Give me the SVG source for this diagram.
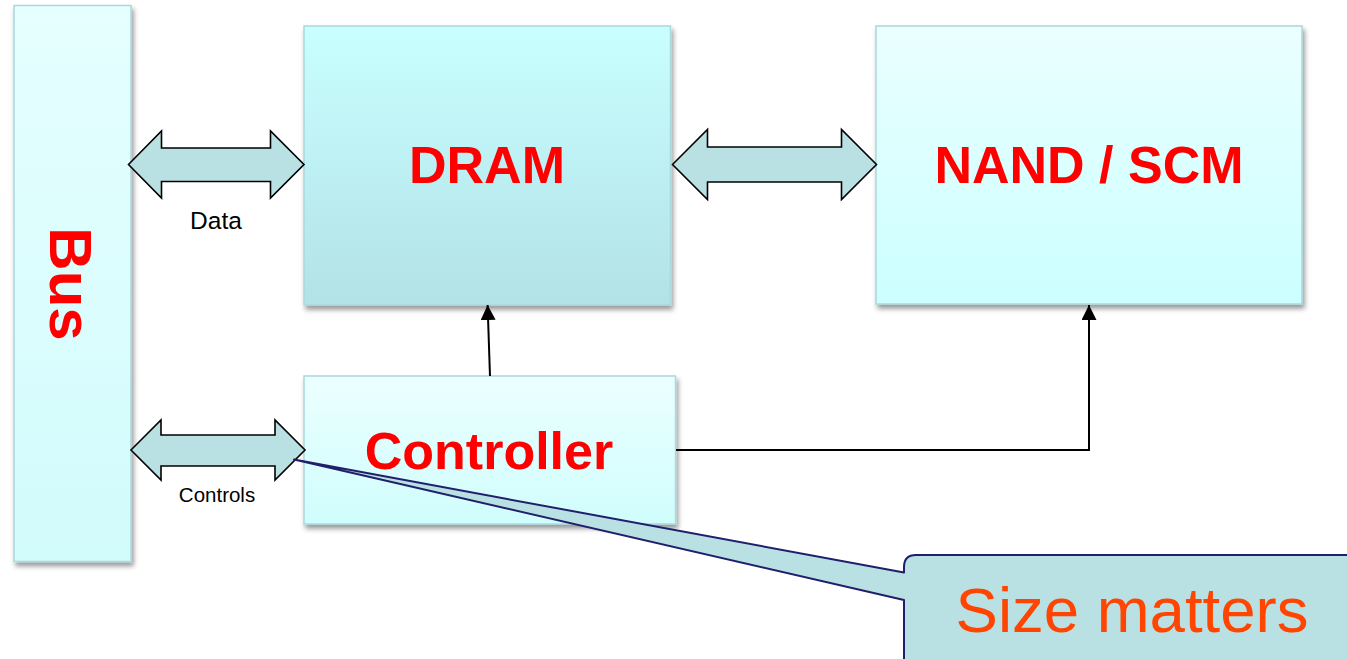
<svg xmlns="http://www.w3.org/2000/svg" width="1347" height="659" viewBox="0 0 1347 659">
  <style>
    .box { stroke: #a9d8dd; stroke-width: 1.5; filter: url(#shadow); }
    .title { font-family: "Liberation Sans", Arial, sans-serif; font-weight: bold; fill: #ff0000; text-anchor: middle; }
    .label { font-family: "Liberation Sans", Arial, sans-serif; fill: #000; text-anchor: middle; }
    .bus-arrow { fill: #b9e0e3; stroke: #000; stroke-width: 1.6; stroke-linejoin: miter; }
    .wire { fill: none; stroke: #000; stroke-width: 2; }
    .callout { fill: #b9e0e3; stroke: #1f1f6b; stroke-width: 2; stroke-linejoin: round; }
  </style>
  <defs>
    <filter id="shadow" x="-10%" y="-10%" width="130%" height="130%">
      <feDropShadow dx="2" dy="4" stdDeviation="2.5" flood-color="#000" flood-opacity="0.4"/>
    </filter>
    <linearGradient id="gBus" x1="0" y1="0" x2="0" y2="1">
      <stop offset="0" stop-color="#e6ffff"/>
      <stop offset="1" stop-color="#d2fbfc"/>
    </linearGradient>
    <linearGradient id="gDram" x1="0" y1="0" x2="0" y2="1">
      <stop offset="0" stop-color="#c9ffff"/>
      <stop offset="1" stop-color="#b2e2e6"/>
    </linearGradient>
    <linearGradient id="gNand" x1="0" y1="0" x2="0" y2="1">
      <stop offset="0" stop-color="#ebffff"/>
      <stop offset="1" stop-color="#ccffff"/>
    </linearGradient>
    <linearGradient id="gCtrl" x1="0" y1="0" x2="0" y2="1">
      <stop offset="0" stop-color="#ecffff"/>
      <stop offset="1" stop-color="#d0fdfd"/>
    </linearGradient>
    <marker id="head" viewBox="0 0 10 10" refX="10" refY="5" markerWidth="15" markerHeight="15" markerUnits="userSpaceOnUse" orient="auto">
      <path d="M0,0 L10,5 L0,10 Z" fill="#000"/>
    </marker>
  </defs>

  <!-- Bus -->
  <g id="bus">
    <rect class="box" x="14" y="5.5" width="117" height="556" fill="url(#gBus)"/>
    <text class="title" font-size="60" transform="translate(49.5,284) rotate(90)">Bus</text>
  </g>

  <!-- DRAM -->
  <g id="dram">
    <rect class="box" x="304" y="26" width="366.5" height="279" fill="url(#gDram)"/>
    <text class="title" x="487" y="183" font-size="52">DRAM</text>
  </g>

  <!-- NAND / SCM -->
  <g id="nand">
    <rect class="box" x="876" y="26" width="426" height="278" fill="url(#gNand)"/>
    <text class="title" x="1089" y="183" font-size="52">NAND / SCM</text>
  </g>

  <!-- Controller -->
  <g id="controller">
    <rect class="box" x="304" y="376" width="371.5" height="148" fill="url(#gCtrl)"/>
    <text class="title" x="489" y="469" font-size="52">Controller</text>
  </g>

  <!-- Connectors -->
  <g id="connectors">
    <!-- Bus <-> DRAM data path -->
    <path class="bus-arrow" d="M128.5,164.5 L161.5,131 L161.5,148 L270.5,148 L270.5,131 L304,164.5 L270.5,198 L270.5,181.5 L161.5,181.5 L161.5,198 Z"/>
    <text class="label" x="216" y="229" font-size="24.5">Data</text>
    <!-- Bus <-> Controller control path -->
    <path class="bus-arrow" d="M131,450 L161,420 L161,435 L275,435 L275,420 L305,450 L275,480 L275,466 L161,466 L161,480 Z"/>
    <text class="label" x="217" y="502" font-size="20.5">Controls</text>
    <!-- DRAM <-> NAND / SCM -->
    <path class="bus-arrow" d="M672.5,164.5 L707.5,129.5 L707.5,147 L841.5,147 L841.5,129.5 L876.5,164.5 L841.5,199.5 L841.5,182 L707.5,182 L707.5,199.5 Z"/>
    <!-- Controller -> DRAM -->
    <path class="wire" d="M490,376 L487.6,305" marker-end="url(#head)"/>
    <!-- Controller -> NAND / SCM -->
    <path class="wire" d="M676,450 L1089,450 L1089,305" marker-end="url(#head)"/>
  </g>

  <!-- Callout -->
  <g id="callout">
    <path class="callout" d="M294,459.5 L904,572.5 L904,567 Q904,555 916,555 L1360,555 L1360,670 L916,670 Q904,670 904,658 L904,600 Z"/>
    <text x="1132" y="632" font-family="'Liberation Sans', Arial, sans-serif" font-size="63.5" fill="#ff4500" text-anchor="middle">Size matters</text>
  </g>
</svg>
